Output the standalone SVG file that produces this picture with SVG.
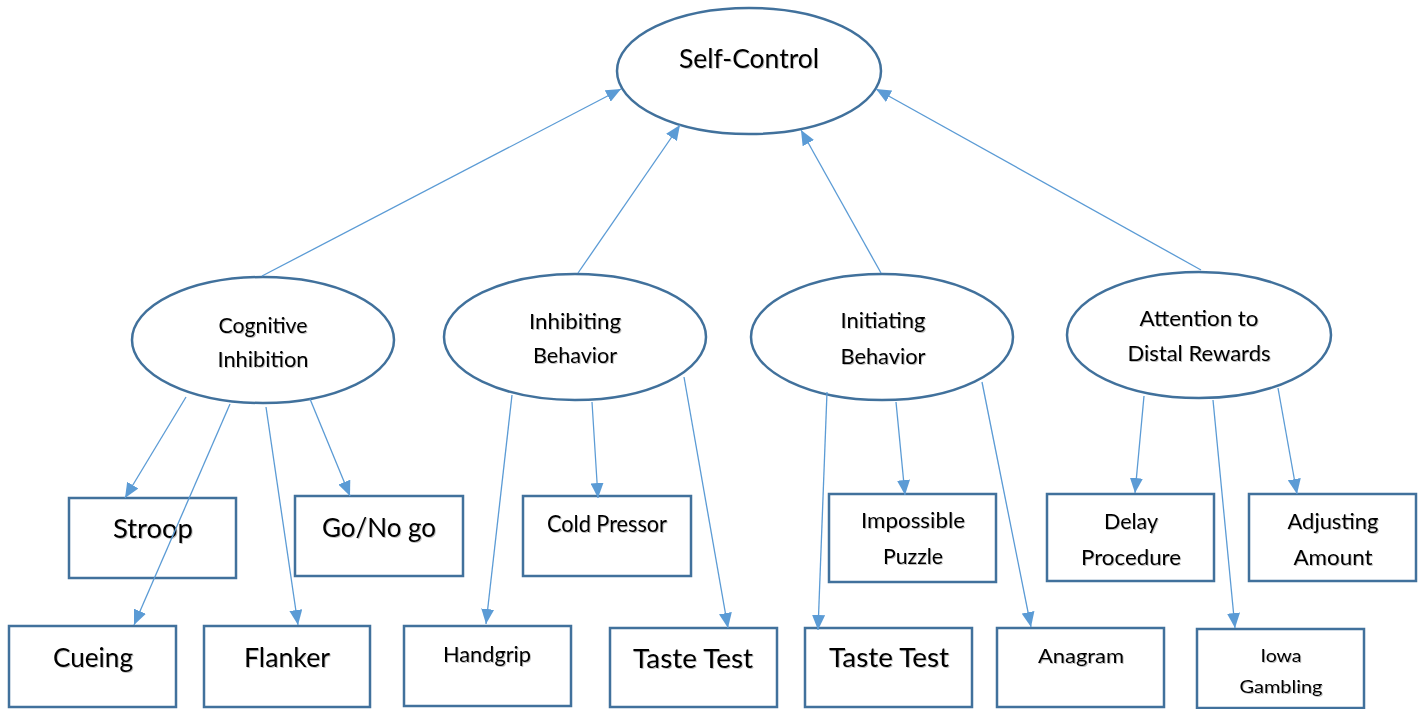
<svg xmlns="http://www.w3.org/2000/svg" width="1423" height="709" viewBox="0 0 1423 709">
<style>
.shape{fill:#fff;stroke:#41719C;stroke-width:2.5}
.conn{stroke:#5B9BD5;stroke-width:1.3;fill:none;marker-end:url(#arrow)}
text{font-family:Lato,"Open Sans","Liberation Sans",sans-serif;fill:#000;text-anchor:middle;filter:url(#sh)}
</style>
<defs>
<marker id="arrow" markerUnits="userSpaceOnUse" viewBox="0 0 15 13" markerWidth="15" markerHeight="13" refX="15" refY="6.5" orient="auto">
<path d="M0,0 L15,6.5 L0,13 z" fill="#5B9BD5"/>
</marker>
<filter id="sh" x="-10%" y="-30%" width="120%" height="160%">
<feDropShadow dx="1" dy="1" stdDeviation="0.7" flood-color="#000" flood-opacity="0.25"/>
</filter>
</defs>

<g id="self-control">
<ellipse class="shape" cx="749" cy="71" rx="132" ry="63"/>
<text x="749" y="68" font-size="26.5" textLength="140" lengthAdjust="spacingAndGlyphs">Self-Control</text>
</g>

<g id="cognitive-inhibition">
<ellipse class="shape" cx="263" cy="340" rx="131" ry="63"/>
<text x="263" y="333" font-size="22" textLength="89" lengthAdjust="spacingAndGlyphs">Cognitive</text>
<text x="263" y="367" font-size="22" textLength="91" lengthAdjust="spacingAndGlyphs">Inhibition</text>
</g>

<g id="inhibiting-behavior">
<ellipse class="shape" cx="575" cy="337" rx="131" ry="63"/>
<text x="575" y="329" font-size="22" textLength="92" lengthAdjust="spacingAndGlyphs">Inhibiting</text>
<text x="575" y="363" font-size="22" textLength="84" lengthAdjust="spacingAndGlyphs">Behavior</text>
</g>

<g id="initiating-behavior">
<ellipse class="shape" cx="882" cy="337" rx="131" ry="63"/>
<text x="883" y="328" font-size="22" textLength="85" lengthAdjust="spacingAndGlyphs">Initiating</text>
<text x="883" y="364" font-size="22" textLength="85" lengthAdjust="spacingAndGlyphs">Behavior</text>
</g>

<g id="attention-distal">
<ellipse class="shape" cx="1199" cy="335" rx="132" ry="63"/>
<text x="1199" y="326" font-size="22" textLength="119" lengthAdjust="spacingAndGlyphs">Attention to</text>
<text x="1199" y="361" font-size="22" textLength="143" lengthAdjust="spacingAndGlyphs">Distal Rewards</text>
</g>

<g id="stroop">
<rect class="shape" x="69" y="498" width="167" height="80"/>
<text x="153" y="538" font-size="26.5" textLength="80" lengthAdjust="spacingAndGlyphs">Stroop</text>
</g>

<g id="go-no-go">
<rect class="shape" x="295" y="496" width="168" height="80"/>
<text x="379" y="537" font-size="26.5" textLength="114" lengthAdjust="spacingAndGlyphs">Go/No go</text>
</g>

<g id="cueing">
<rect class="shape" x="9" y="626" width="167" height="81"/>
<text x="93" y="667" font-size="26.5" textLength="80" lengthAdjust="spacingAndGlyphs">Cueing</text>
</g>

<g id="flanker">
<rect class="shape" x="204" y="626" width="166" height="81"/>
<text x="287" y="667" font-size="26.5" textLength="86" lengthAdjust="spacingAndGlyphs">Flanker</text>
</g>

<g id="cold-pressor">
<rect class="shape" x="523" y="496" width="168" height="80"/>
<text x="607" y="532" font-size="23" textLength="120" lengthAdjust="spacingAndGlyphs">Cold Pressor</text>
</g>

<g id="handgrip">
<rect class="shape" x="404" y="626" width="167" height="80"/>
<text x="487" y="662" font-size="22" textLength="88" lengthAdjust="spacingAndGlyphs">Handgrip</text>
</g>

<g id="taste-test-1">
<rect class="shape" x="610" y="628" width="167" height="79"/>
<text x="693" y="668" font-size="26.5" textLength="120" lengthAdjust="spacingAndGlyphs">Taste Test</text>
</g>

<g id="impossible-puzzle">
<rect class="shape" x="829" y="494" width="167" height="88"/>
<text x="913" y="528" font-size="21.5" textLength="104" lengthAdjust="spacingAndGlyphs">Impossible</text>
<text x="913" y="564" font-size="21.5" textLength="60" lengthAdjust="spacingAndGlyphs">Puzzle</text>
</g>

<g id="taste-test-2">
<rect class="shape" x="805" y="628" width="167" height="79"/>
<text x="889" y="667" font-size="26.5" textLength="120" lengthAdjust="spacingAndGlyphs">Taste Test</text>
</g>

<g id="anagram">
<rect class="shape" x="997" y="628" width="167" height="79"/>
<text x="1081" y="663" font-size="20" textLength="86" lengthAdjust="spacingAndGlyphs">Anagram</text>
</g>

<g id="delay-procedure">
<rect class="shape" x="1047" y="494" width="167" height="87"/>
<text x="1131" y="529" font-size="22" textLength="54" lengthAdjust="spacingAndGlyphs">Delay</text>
<text x="1131" y="565" font-size="22" textLength="100" lengthAdjust="spacingAndGlyphs">Procedure</text>
</g>

<g id="adjusting-amount">
<rect class="shape" x="1249" y="494" width="167" height="87"/>
<text x="1333" y="529" font-size="22" textLength="91" lengthAdjust="spacingAndGlyphs">Adjusting</text>
<text x="1333" y="565" font-size="22" textLength="79" lengthAdjust="spacingAndGlyphs">Amount</text>
</g>

<g id="iowa-gambling">
<rect class="shape" x="1197" y="629" width="167" height="79"/>
<text x="1281" y="662" font-size="18" textLength="41" lengthAdjust="spacingAndGlyphs">Iowa</text>
<text x="1281" y="693" font-size="18" textLength="83" lengthAdjust="spacingAndGlyphs">Gambling</text>
</g>

<g id="connectors">
<line class="conn" x1="262" y1="276" x2="621" y2="89"/>
<line class="conn" x1="578" y1="273" x2="680" y2="125"/>
<line class="conn" x1="881" y1="273" x2="801" y2="130"/>
<line class="conn" x1="1201" y1="270" x2="876" y2="89"/>
<line class="conn" x1="186" y1="397" x2="125" y2="498"/>
<line class="conn" x1="230" y1="404" x2="134" y2="625"/>
<line class="conn" x1="266" y1="407" x2="298" y2="625"/>
<line class="conn" x1="310" y1="399" x2="350" y2="496"/>
<line class="conn" x1="512" y1="395" x2="486" y2="624"/>
<line class="conn" x1="592" y1="402" x2="598" y2="498"/>
<line class="conn" x1="684" y1="377" x2="728" y2="628"/>
<line class="conn" x1="827" y1="392" x2="818" y2="630"/>
<line class="conn" x1="896" y1="402" x2="905" y2="495"/>
<line class="conn" x1="982" y1="382" x2="1031" y2="627"/>
<line class="conn" x1="1144" y1="396" x2="1135" y2="493"/>
<line class="conn" x1="1213" y1="400" x2="1235" y2="628"/>
<line class="conn" x1="1278" y1="388" x2="1297" y2="494"/>
</g>
</svg>
